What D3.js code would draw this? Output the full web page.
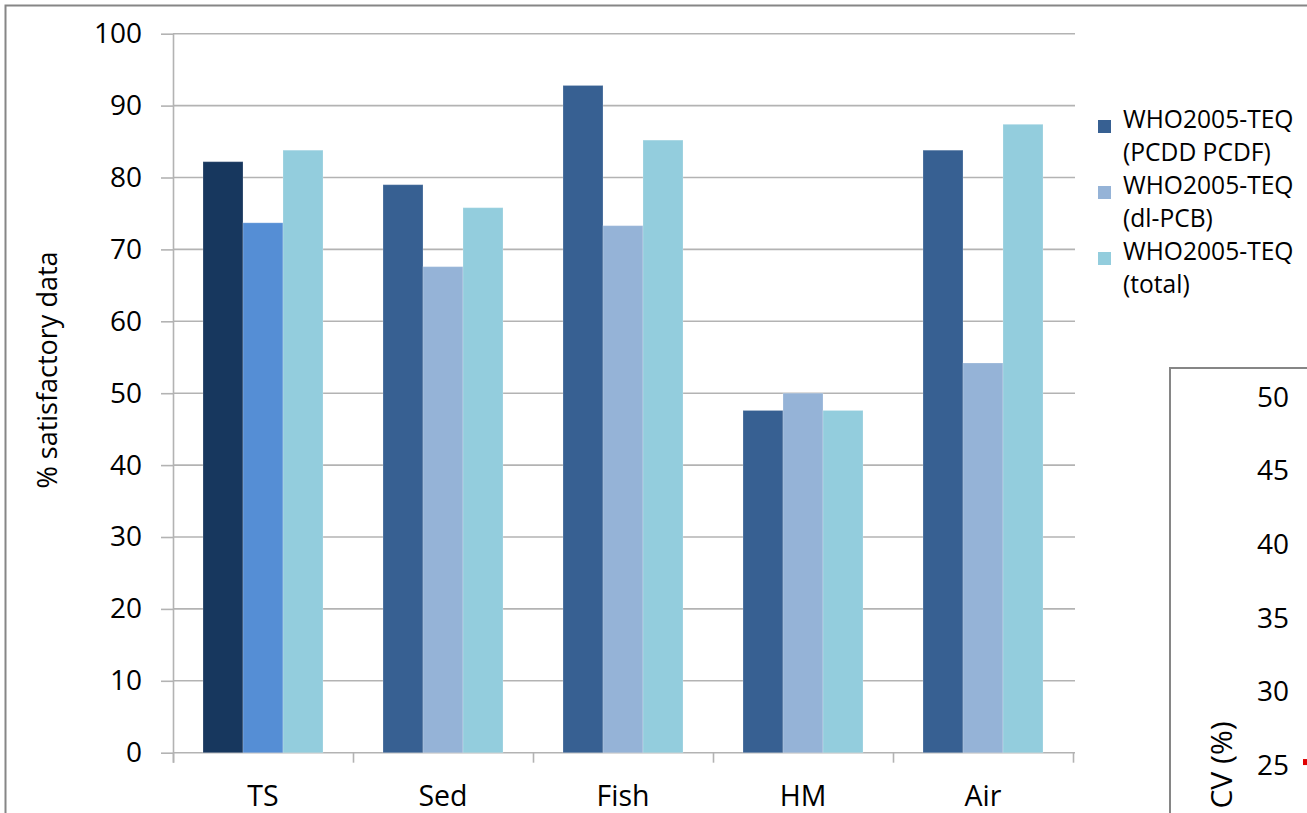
<!DOCTYPE html>
<html>
<head>
<meta charset="utf-8">
<script src="https://cdn.jsdelivr.net/npm/d3@7"></script>
<style>
  html, body { margin: 0; padding: 0; background: #fff; }
  svg { display: block; font-family: "Open Sans", "Liberation Sans", sans-serif; }
</style>
</head>
<body>
<svg id="chart" width="1307" height="813"></svg>
<script>
// Share of satisfactory results per matrix, for three WHO2005-TEQ sums
const categories = ["TS", "Sed", "Fish", "HM", "Air"];
const seriesKeys = ["pcddPcdf", "dlPcb", "total"];
const seriesLabels = [
  ["WHO2005-TEQ", "(PCDD PCDF)"],
  ["WHO2005-TEQ", "(dl-PCB)"],
  ["WHO2005-TEQ", "(total)"]
];
const pcddPcdf = [82.2, 79.0, 92.8, 47.6, 83.8];
const dlPcb    = [73.7, 67.6, 73.3, 50.0, 54.2];
const total    = [83.8, 75.8, 85.2, 47.6, 87.4];
const yTicks = [0, 10, 20, 30, 40, 50, 60, 70, 80, 90, 100];

// Neighbouring CV panel (only its upper-left corner is in view)
const cvTicks = [25, 30, 35, 40, 45, 50];
const cvPoints = [25.2];

const seriesColors = ["#376092", "#95B3D7", "#93CDDD"];
const tsColors = ["#17375E", "#558ED5", "#93CDDD"];

const values = { pcddPcdf, dlPcb, total };
const svg = d3.select("#chart");

// Outer chart frame
svg.append("rect")
  .attr("x", 5.5).attr("y", 5.5)
  .attr("width", 1400).attr("height", 900)
  .attr("fill", "#fff").attr("stroke", "#868686").attr("stroke-width", 2);

const plotLeft = 173, plotRight = 1073, plotTop = 33.7, plotBottom = 752.7;

const y = d3.scaleLinear().domain([0, 100]).range([plotBottom, plotTop]);
const x0 = d3.scaleBand().domain(categories).range([plotLeft, plotRight]).padding(0);
const x1 = d3.scaleBand().domain(seriesKeys).range([30, 150]).padding(0);

// Horizontal gridlines
svg.append("g")
  .selectAll("line")
  .data(yTicks)
  .join("line")
  .attr("x1", plotLeft).attr("x2", plotRight + 2)
  .attr("y1", d => y(d)).attr("y2", d => y(d))
  .attr("stroke", "#b3b3b3").attr("stroke-width", 1.6);

// Y axis
const yAxis = svg.append("g")
  .attr("transform", `translate(${plotLeft},0)`)
  .call(d3.axisLeft(y).tickValues(yTicks).tickSize(12).tickPadding(19).tickFormat(d3.format("d")));
yAxis.select(".domain").attr("stroke", "#b3b3b3").attr("stroke-width", 1.6)
  .attr("d", `M0.5,${plotTop}V${plotBottom + 10}`);
yAxis.selectAll(".tick line").attr("stroke", "#b3b3b3").attr("stroke-width", 1.6);
yAxis.selectAll(".tick text").attr("font-size", 28).attr("fill", "#000")
  .attr("font-family", "'Open Sans', sans-serif");

// X axis: category labels centred, boundary tick marks between groups
const xAxis = svg.append("g")
  .attr("transform", `translate(0,${plotBottom})`)
  .call(d3.axisBottom(x0).tickSize(0).tickPadding(33));
xAxis.select(".domain").remove();
xAxis.selectAll(".tick text").attr("font-size", 28.5).attr("fill", "#000")
  .attr("font-family", "'Open Sans', sans-serif");

const bounds = categories.map(c => x0(c)).concat([plotRight]);
svg.append("g")
  .selectAll("line")
  .data(bounds)
  .join("line")
  .attr("x1", d => d + 0.5).attr("x2", d => d + 0.5)
  .attr("y1", plotBottom).attr("y2", plotBottom + 10)
  .attr("stroke", "#b3b3b3").attr("stroke-width", 1.6);

// Bars
const groups = svg.append("g")
  .selectAll("g")
  .data(categories)
  .join("g")
  .attr("transform", c => `translate(${x0(c)},0)`);

groups.selectAll("rect")
  .data((c, i) => seriesKeys.map((k, j) => ({ key: k, value: values[k][i], cat: c, j })))
  .join("rect")
  .attr("x", d => x1(d.key))
  .attr("width", x1.bandwidth())
  .attr("y", d => y(d.value))
  .attr("height", d => y(0) - y(d.value))
  .attr("fill", d => d.cat === "TS" ? tsColors[d.j] : seriesColors[d.j])
  .attr("stroke", "rgba(255,255,255,0.22)")
  .attr("stroke-width", 1);

// Y axis title
svg.append("text")
  .attr("transform", "translate(57,370) rotate(-90)")
  .attr("text-anchor", "middle")
  .attr("font-size", 27)
  .attr("fill", "#000")
  .text("% satisfactory data");

// Legend
const legend = svg.append("g").attr("transform", "translate(1098,0)");
seriesLabels.forEach((lines, i) => {
  const base = 128 + i * 66;
  legend.append("rect")
    .attr("x", 0).attr("y", base - 8)
    .attr("width", 13).attr("height", 13)
    .attr("fill", seriesColors[i]);
  lines.forEach((t, k) => {
    legend.append("text")
      .attr("x", 25).attr("y", base + k * 33)
      .attr("font-size", 24.6)
      .attr("fill", "#000")
      .text(t);
  });
});

// CV panel
const cvY = d3.scaleLinear().domain([25, 50]).range([765, 397]);
svg.append("rect")
  .attr("x", 1170).attr("y", 368)
  .attr("width", 300).attr("height", 600)
  .attr("fill", "#fff").attr("stroke", "#868686").attr("stroke-width", 2);
svg.append("g")
  .selectAll("text")
  .data(cvTicks)
  .join("text")
  .attr("x", 1289).attr("y", d => cvY(d))
  .attr("dy", "0.35em")
  .attr("text-anchor", "end")
  .attr("font-size", 28)
  .attr("fill", "#000")
  .text(d => d);
svg.append("text")
  .attr("transform", `translate(1232,765) rotate(-90)`)
  .attr("text-anchor", "middle")
  .attr("font-size", 30)
  .attr("fill", "#000")
  .text("CV (%)");
svg.append("g")
  .selectAll("rect")
  .data(cvPoints)
  .join("rect")
  .attr("x", 1303).attr("y", d => cvY(d) - 3)
  .attr("width", 8).attr("height", 6)
  .attr("fill", "#e00000");
</script>
</body>
</html>
